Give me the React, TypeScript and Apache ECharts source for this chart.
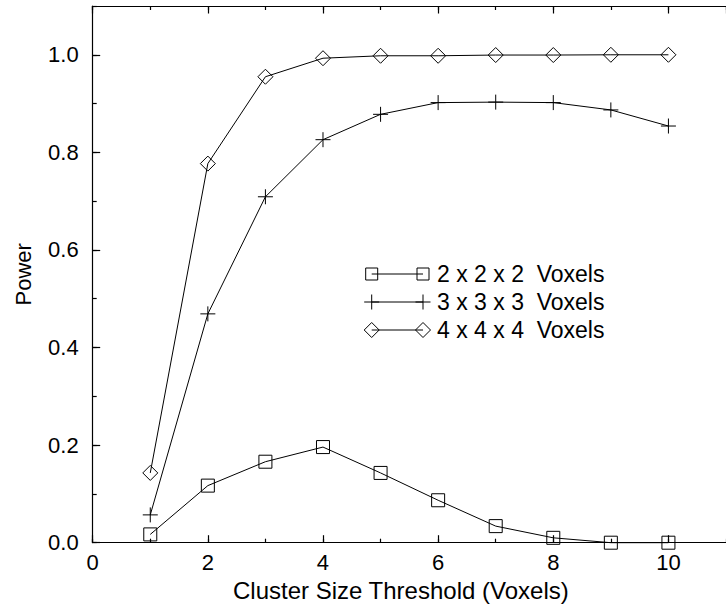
import React, { useEffect, useRef } from "react";
import * as echarts from "echarts";

const thresholds = [1, 2, 3, 4, 5, 6, 7, 8, 9, 10];
const voxels2 = [0.017, 0.117, 0.166, 0.196, 0.143, 0.087, 0.034, 0.010, 0.0, 0.0];
const voxels3 = [0.057, 0.469, 0.709, 0.826, 0.878, 0.902, 0.903, 0.902, 0.887, 0.854];
const voxels4 = [0.143, 0.777, 0.955, 0.993, 0.998, 0.998, 0.9995, 0.9995, 1.0, 1.0];
const seriesNames = ["2 x 2 x 2  Voxels", "3 x 3 x 3  Voxels", "4 x 4 x 4  Voxels"];
const xTitle = "Cluster Size Threshold (Voxels)";
const yTitle = "Power";

const FONT = "'Liberation Sans', Arial, Helvetica, sans-serif";
const FS = 22;
const PLUS = "path://M0,7.5 L15,7.5 M7.5,0 L7.5,15";

export default function App() {
  const ref = useRef<HTMLDivElement>(null);
  useEffect(() => {
    document.body.style.margin = "0";
    const chart = echarts.init(ref.current!, undefined, { renderer: "svg" });
    const pairs = (ys: number[]) => thresholds.map((x, i) => [x, ys[i]]);
    const lineBase = {
      type: "line",
      xAxisIndex: 0,
      yAxisIndex: 0,
      clip: false,
      lineStyle: { color: "#000", width: 1 },
      itemStyle: { color: "rgba(0,0,0,0)", borderColor: "#000", borderWidth: 1 },
      emphasis: { disabled: true },
    };
    const black = { lineStyle: { color: "#000", width: 1.2 } };
    const hiddenLabel = { show: false };
    const xCommon = {
      type: "value",
      min: 0,
      max: 11,
      splitLine: { show: false },
    };
    const yCommon = {
      type: "value",
      min: 0,
      max: 1.1,
      splitLine: { show: false },
    };

    // legend graphics
    const rows = [274, 302, 330];
    const lx1 = 371.7;
    const lx2 = 423;
    const legendEls: any[] = [];
    const marker = (k: number, cx: number, cy: number) => {
      const st = { fill: "none", stroke: "#000", lineWidth: 1 };
      if (k === 0) return { type: "rect", shape: { x: cx - 6, y: cy - 6, width: 12, height: 12 }, style: st };
      if (k === 1)
        return {
          type: "group",
          children: [
            { type: "line", shape: { x1: cx - 7.5, y1: cy, x2: cx + 7.5, y2: cy }, style: st },
            { type: "line", shape: { x1: cx, y1: cy - 7.5, x2: cx, y2: cy + 7.5 }, style: st },
          ],
        };
      return {
        type: "polygon",
        shape: { points: [[cx - 7.5, cy], [cx, cy - 7.5], [cx + 7.5, cy], [cx, cy + 7.5]] },
        style: st,
      };
    };
    seriesNames.forEach((name, k) => {
      const cy = rows[k];
      legendEls.push({ type: "line", shape: { x1: lx1, y1: cy, x2: lx2, y2: cy }, style: { stroke: "#000", lineWidth: 1 } });
      legendEls.push(marker(k, lx1, cy));
      legendEls.push(marker(k, lx2, cy));
      legendEls.push({
        type: "text",
        x: 437,
        y: cy,
        style: { text: name, font: `23px ${FONT}`, fill: "#000", verticalAlign: "middle", align: "left" },
      });
    });

    chart.setOption({
      animation: false,
      backgroundColor: "#fff",
      textStyle: { fontFamily: FONT },
      grid: { left: 92.7, top: 6, right: -10.2, bottom: 65.3, containLabel: false },
      xAxis: [
        {
          ...xCommon,
          position: "bottom",
          interval: 2,
          axisLine: { show: true, onZero: false, ...black },
          axisTick: { show: true, inside: true, length: 7.5, ...black },
          axisLabel: {
            show: true,
            margin: 9,
            color: "#000",
            fontSize: FS,
            fontFamily: FONT,
            showMaxLabel: false,
            formatter: (v: number) => (v > 10 ? "" : String(v)),
          },
          name: xTitle,
          nameLocation: "middle",
          nameGap: 29,
          nameTextStyle: { color: "#000", fontSize: 24, fontFamily: FONT, padding: [0, 17, 0, 0] },
        },
        {
          ...xCommon,
          position: "bottom",
          interval: 1,
          axisLine: { show: false, onZero: false },
          axisTick: { show: true, inside: true, length: 4, ...black },
          axisLabel: hiddenLabel,
        },
        {
          ...xCommon,
          position: "top",
          interval: 2,
          axisLine: { show: true, onZero: false, ...black },
          axisTick: { show: true, inside: true, length: 7.5, ...black },
          axisLabel: hiddenLabel,
        },
        {
          ...xCommon,
          position: "top",
          interval: 1,
          axisLine: { show: false, onZero: false },
          axisTick: { show: true, inside: true, length: 4, ...black },
          axisLabel: hiddenLabel,
        },
      ],
      yAxis: [
        {
          ...yCommon,
          position: "left",
          interval: 0.2,
          axisLine: { show: true, onZero: false, ...black },
          axisTick: { show: true, inside: true, length: 7.5, ...black },
          axisLabel: {
            show: true,
            margin: 14,
            color: "#000",
            fontSize: FS,
            fontFamily: FONT,
            showMaxLabel: false,
            formatter: (v: number) => (v > 1.05 ? "" : v.toFixed(1)),
          },
          name: yTitle,
          nameLocation: "middle",
          nameGap: 58,
          nameTextStyle: { color: "#000", fontSize: FS, fontFamily: FONT },
        },
        {
          ...yCommon,
          position: "left",
          interval: 0.1,
          axisLine: { show: false, onZero: false },
          axisTick: { show: true, inside: true, length: 4, ...black },
          axisLabel: hiddenLabel,
        },
      ],
      series: [
        { ...lineBase, name: seriesNames[0], data: pairs(voxels2), symbol: "rect", symbolSize: 13 },
        { ...lineBase, name: seriesNames[1], data: pairs(voxels3), symbol: PLUS, symbolSize: 15 },
        { ...lineBase, name: seriesNames[2], data: pairs(voxels4), symbol: "diamond", symbolSize: 15 },
      ],
      graphic: legendEls,
    });
    return () => chart.dispose();
  }, []);
  return <div ref={ref} style={{ width: 726, height: 608 }} />;
}
